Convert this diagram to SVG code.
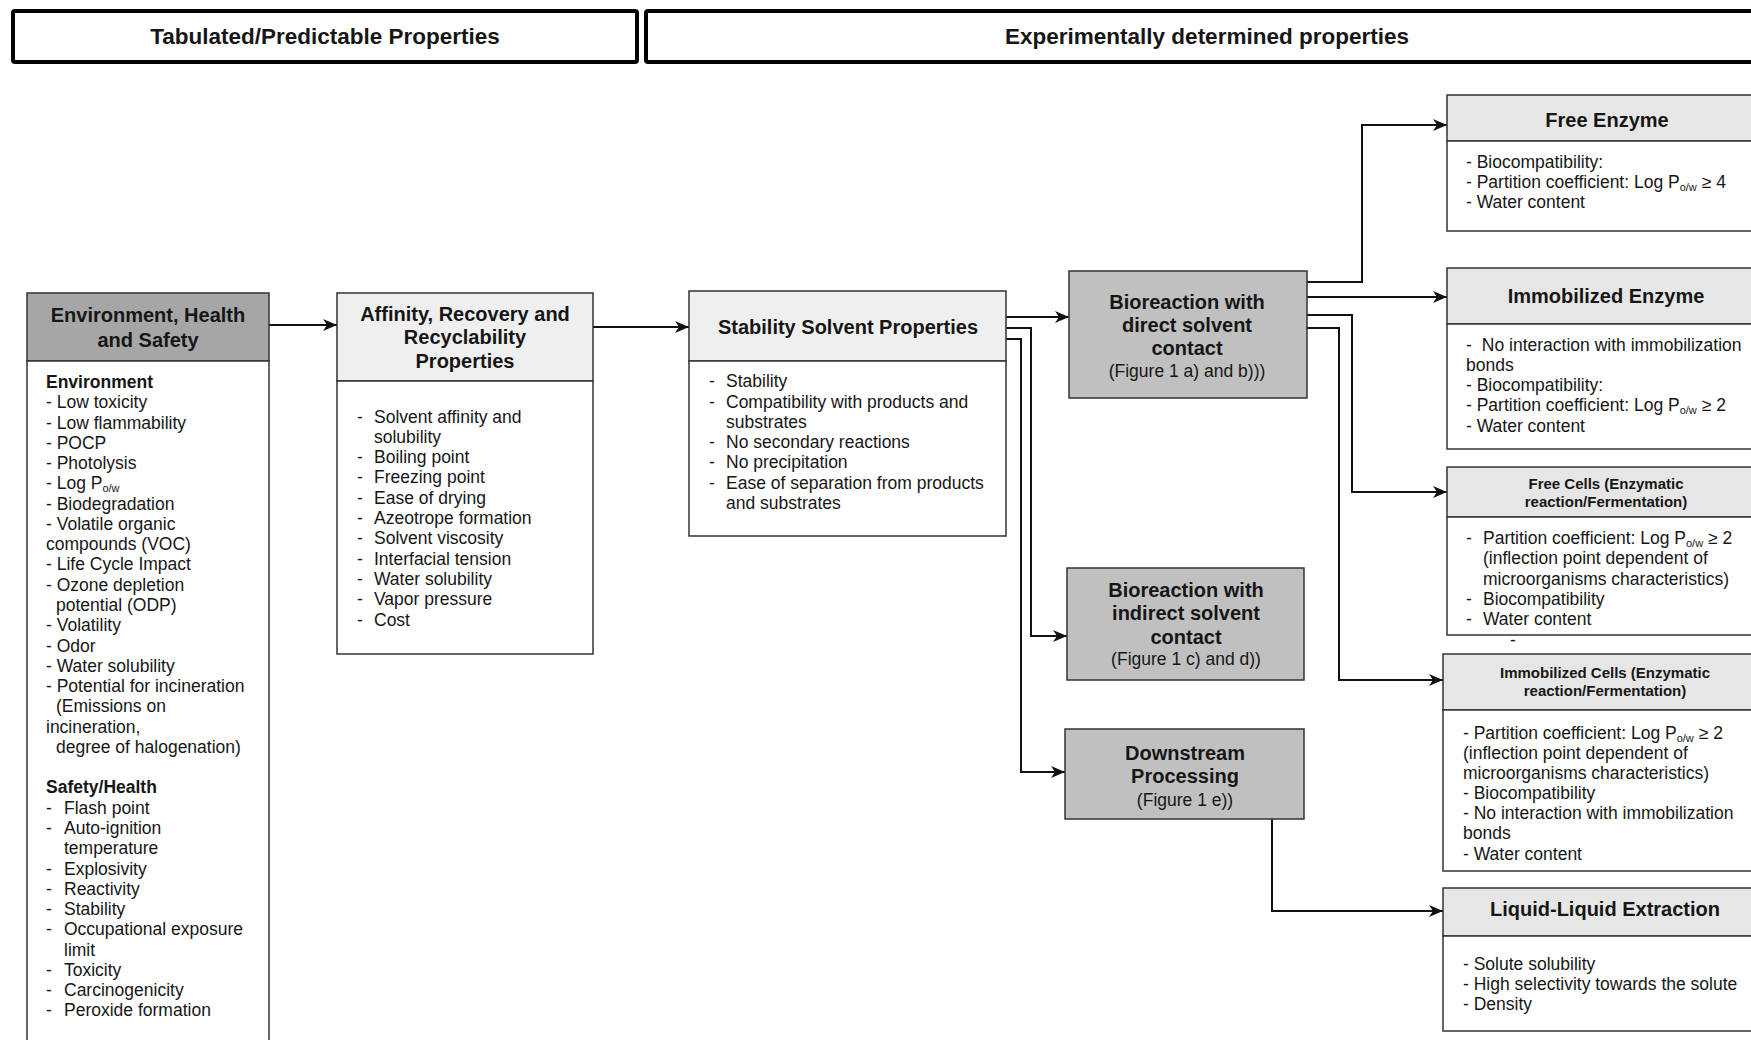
<svg xmlns="http://www.w3.org/2000/svg" width="1751" height="1040" viewBox="0 0 1751 1040">
<defs>
<style>
text{font-family:"Liberation Sans",Arial,sans-serif;fill:#161616}
.t{font-size:17.5px}
.b{font-size:20px;font-weight:bold;text-anchor:middle}
.bs{font-size:15px;font-weight:bold;text-anchor:middle}
.r{font-size:17.5px;text-anchor:middle}
.h{font-size:22.5px;font-weight:bold;text-anchor:middle}
.sub{font-size:11px}
.box{stroke:#333;stroke-width:1.5}
.hdr{fill:#fff;stroke:#000;stroke-width:4}
.c{fill:none;stroke:#111;stroke-width:2;marker-end:url(#arr)}
</style>
<marker id="arr" markerUnits="userSpaceOnUse" markerWidth="14" markerHeight="12" refX="14" refY="6" orient="auto">
<path d="M0,0 L14,6 L0,12 L4,6 z" fill="#111"/>
</marker>
</defs>
<rect width="1751" height="1040" fill="#fff"/>

<g id="header-tabulated">
<rect class="hdr" x="13" y="11" width="624" height="51" rx="2"/>
<text class="h" x="325" y="44">Tabulated/Predictable Properties</text>
</g>
<g id="header-experimental">
<rect class="hdr" x="646" y="11" width="1120" height="51" rx="2"/>
<text class="h" x="1207" y="44">Experimentally determined properties</text>
</g>

<g id="connectors">
<path class="c" d="M269,325 H337"/>
<path class="c" d="M593,327 H689"/>
<path class="c" d="M1006,317 H1069"/>
<path class="c" d="M1006,328 H1031 V636 H1067"/>
<path class="c" d="M1006,339 H1021 V772 H1065"/>
<path class="c" d="M1307,282 H1362 V125 H1447"/>
<path class="c" d="M1307,297 H1447"/>
<path class="c" d="M1307,315 H1352 V492 H1447"/>
<path class="c" d="M1307,328 H1339 V680 H1443"/>
<path class="c" d="M1272,819 V911 H1443"/>
</g>

<g id="ehs">
<rect class="box" x="27" y="293" width="242" height="68" fill="#a6a6a6"/>
<rect class="box" x="27" y="361" width="242" height="700" fill="#fff"/>
<text class="b" x="148" y="322">Environment, Health</text>
<text class="b" x="148" y="346.5">and Safety</text>
<text class="t" x="46" y="388" font-weight="bold">Environment</text>
<text class="t" x="46" y="408.3">- Low toxicity</text>
<text class="t" x="46" y="428.5">- Low flammability</text>
<text class="t" x="46" y="448.8">- POCP</text>
<text class="t" x="46" y="469.1">- Photolysis</text>
<text class="t" x="46" y="489.4">- Log P<tspan class="sub" dy="3">o/w</tspan></text>
<text class="t" x="46" y="509.6">- Biodegradation</text>
<text class="t" x="46" y="529.9">- Volatile organic</text>
<text class="t" x="46" y="550.2">compounds (VOC)</text>
<text class="t" x="46" y="570.4">- Life Cycle Impact</text>
<text class="t" x="46" y="590.7">- Ozone depletion</text>
<text class="t" x="56" y="611">potential (ODP)</text>
<text class="t" x="46" y="631.2">- Volatility</text>
<text class="t" x="46" y="651.5">- Odor</text>
<text class="t" x="46" y="671.8">- Water solubility</text>
<text class="t" x="46" y="692">- Potential for incineration</text>
<text class="t" x="56" y="712.3">(Emissions on</text>
<text class="t" x="46" y="732.6">incineration,</text>
<text class="t" x="56" y="752.9">degree of halogenation)</text>
<text class="t" x="46" y="793.4" font-weight="bold">Safety/Health</text>
<text class="t" x="46" y="813.7">-</text><text class="t" x="64" y="813.7">Flash point</text>
<text class="t" x="46" y="834">-</text><text class="t" x="64" y="834">Auto-ignition</text>
<text class="t" x="64" y="854.2">temperature</text>
<text class="t" x="46" y="874.5">-</text><text class="t" x="64" y="874.5">Explosivity</text>
<text class="t" x="46" y="894.8">-</text><text class="t" x="64" y="894.8">Reactivity</text>
<text class="t" x="46" y="915">-</text><text class="t" x="64" y="915">Stability</text>
<text class="t" x="46" y="935.3">-</text><text class="t" x="64" y="935.3">Occupational exposure</text>
<text class="t" x="64" y="955.6">limit</text>
<text class="t" x="46" y="975.8">-</text><text class="t" x="64" y="975.8">Toxicity</text>
<text class="t" x="46" y="996.1">-</text><text class="t" x="64" y="996.1">Carcinogenicity</text>
<text class="t" x="46" y="1016.4">-</text><text class="t" x="64" y="1016.4">Peroxide formation</text>
</g>

<g id="affinity">
<rect class="box" x="337" y="293" width="256" height="88" fill="#efefef"/>
<rect class="box" x="337" y="381" width="256" height="273" fill="#fff"/>
<text class="b" x="465" y="320.5">Affinity, Recovery and</text>
<text class="b" x="465" y="344">Recyclability</text>
<text class="b" x="465" y="367.5">Properties</text>
<text class="t" x="357" y="422.5">-</text><text class="t" x="374" y="422.5">Solvent affinity and</text>
<text class="t" x="374" y="442.8">solubility</text>
<text class="t" x="357" y="463">-</text><text class="t" x="374" y="463">Boiling point</text>
<text class="t" x="357" y="483.4">-</text><text class="t" x="374" y="483.4">Freezing point</text>
<text class="t" x="357" y="503.7">-</text><text class="t" x="374" y="503.7">Ease of drying</text>
<text class="t" x="357" y="524">-</text><text class="t" x="374" y="524">Azeotrope formation</text>
<text class="t" x="357" y="544.3">-</text><text class="t" x="374" y="544.3">Solvent viscosity</text>
<text class="t" x="357" y="564.6">-</text><text class="t" x="374" y="564.6">Interfacial tension</text>
<text class="t" x="357" y="585">-</text><text class="t" x="374" y="585">Water solubility</text>
<text class="t" x="357" y="605.3">-</text><text class="t" x="374" y="605.3">Vapor pressure</text>
<text class="t" x="357" y="625.6">-</text><text class="t" x="374" y="625.6">Cost</text>
</g>

<g id="stability">
<rect class="box" x="689" y="291" width="317" height="70" fill="#efefef"/>
<rect class="box" x="689" y="361" width="317" height="175" fill="#fff"/>
<text class="b" x="848" y="334">Stability Solvent Properties</text>
<text class="t" x="709" y="387">-</text><text class="t" x="726" y="387">Stability</text>
<text class="t" x="709" y="407.5">-</text><text class="t" x="726" y="407.5">Compatibility with products and</text>
<text class="t" x="726" y="427.8">substrates</text>
<text class="t" x="709" y="448">-</text><text class="t" x="726" y="448">No secondary reactions</text>
<text class="t" x="709" y="468.4">-</text><text class="t" x="726" y="468.4">No precipitation</text>
<text class="t" x="709" y="488.7">-</text><text class="t" x="726" y="488.7">Ease of separation from products</text>
<text class="t" x="726" y="509">and substrates</text>
</g>

<g id="bio-direct">
<rect class="box" x="1069" y="271" width="238" height="127" fill="#c0c0c0"/>
<text class="b" x="1187" y="308.5">Bioreaction with</text>
<text class="b" x="1187" y="332">direct solvent</text>
<text class="b" x="1187" y="355">contact</text>
<text class="r" x="1187" y="377">(Figure 1 a) and b)))</text>
</g>

<g id="bio-indirect">
<rect class="box" x="1067" y="568" width="237" height="112" fill="#c0c0c0"/>
<text class="b" x="1186" y="596.6">Bioreaction with</text>
<text class="b" x="1186" y="620">indirect solvent</text>
<text class="b" x="1186" y="643.5">contact</text>
<text class="r" x="1186" y="665">(Figure 1 c) and d))</text>
</g>

<g id="downstream">
<rect class="box" x="1065" y="729" width="239" height="90" fill="#c0c0c0"/>
<text class="b" x="1185" y="759.6">Downstream</text>
<text class="b" x="1185" y="783">Processing</text>
<text class="r" x="1185" y="805.5">(Figure 1 e))</text>
</g>

<g id="free-enzyme">
<rect class="box" x="1447" y="95" width="320" height="46" fill="#e6e6e6"/>
<rect class="box" x="1447" y="141" width="320" height="90" fill="#fff"/>
<text class="b" x="1607" y="126.5">Free Enzyme</text>
<text class="t" x="1466" y="168">- Biocompatibility:</text>
<text class="t" x="1466" y="188">- Partition coefficient: Log P<tspan class="sub" dy="3">o/w</tspan><tspan dy="-3"> ≥ 4</tspan></text>
<text class="t" x="1466" y="208">- Water content</text>
</g>

<g id="immobilized-enzyme">
<rect class="box" x="1447" y="268" width="320" height="56" fill="#e6e6e6"/>
<rect class="box" x="1447" y="324" width="320" height="125" fill="#fff"/>
<text class="b" x="1606" y="303">Immobilized Enzyme</text>
<text class="t" x="1466" y="351">-<tspan dx="10">No interaction with immobilization</tspan></text>
<text class="t" x="1466" y="371">bonds</text>
<text class="t" x="1466" y="391">- Biocompatibility:</text>
<text class="t" x="1466" y="411">- Partition coefficient: Log P<tspan class="sub" dy="3">o/w</tspan><tspan dy="-3"> ≥ 2</tspan></text>
<text class="t" x="1466" y="431.5">- Water content</text>
</g>

<g id="free-cells">
<rect class="box" x="1447" y="467" width="320" height="50" fill="#e6e6e6"/>
<rect class="box" x="1447" y="517" width="320" height="118" fill="#fff"/>
<text class="bs" x="1606" y="488.5">Free Cells (Enzymatic</text>
<text class="bs" x="1606" y="506.5">reaction/Fermentation)</text>
<text class="t" x="1466" y="544">-</text><text class="t" x="1483" y="544">Partition coefficient: Log P<tspan class="sub" dy="3">o/w</tspan><tspan dy="-3"> ≥ 2</tspan></text>
<text class="t" x="1483" y="564">(inflection point dependent of</text>
<text class="t" x="1483" y="584.5">microorganisms characteristics)</text>
<text class="t" x="1466" y="604.5">-</text><text class="t" x="1483" y="604.5">Biocompatibility</text>
<text class="t" x="1466" y="624.6">-</text><text class="t" x="1483" y="624.6">Water content</text>
<text class="t" x="1510" y="646">-</text>
</g>

<g id="immobilized-cells">
<rect class="box" x="1443" y="654" width="324" height="56" fill="#e6e6e6"/>
<rect class="box" x="1443" y="710" width="324" height="161" fill="#fff"/>
<text class="bs" x="1605" y="678">Immobilized Cells (Enzymatic</text>
<text class="bs" x="1605" y="696">reaction/Fermentation)</text>
<text class="t" x="1463" y="738.5">- Partition coefficient: Log P<tspan class="sub" dy="3">o/w</tspan><tspan dy="-3"> ≥ 2</tspan></text>
<text class="t" x="1463" y="758.6">(inflection point dependent of</text>
<text class="t" x="1463" y="778.7">microorganisms characteristics)</text>
<text class="t" x="1463" y="799">- Biocompatibility</text>
<text class="t" x="1463" y="819">- No interaction with immobilization</text>
<text class="t" x="1463" y="839">bonds</text>
<text class="t" x="1463" y="860">- Water content</text>
</g>

<g id="liquid-liquid-extraction">
<rect class="box" x="1443" y="888" width="324" height="48" fill="#e6e6e6"/>
<rect class="box" x="1443" y="936" width="324" height="95" fill="#fff"/>
<text class="b" x="1605" y="916">Liquid-Liquid Extraction</text>
<text class="t" x="1463" y="970">- Solute solubility</text>
<text class="t" x="1463" y="990">- High selectivity towards the solute</text>
<text class="t" x="1463" y="1010">- Density</text>
</g>
</svg>
